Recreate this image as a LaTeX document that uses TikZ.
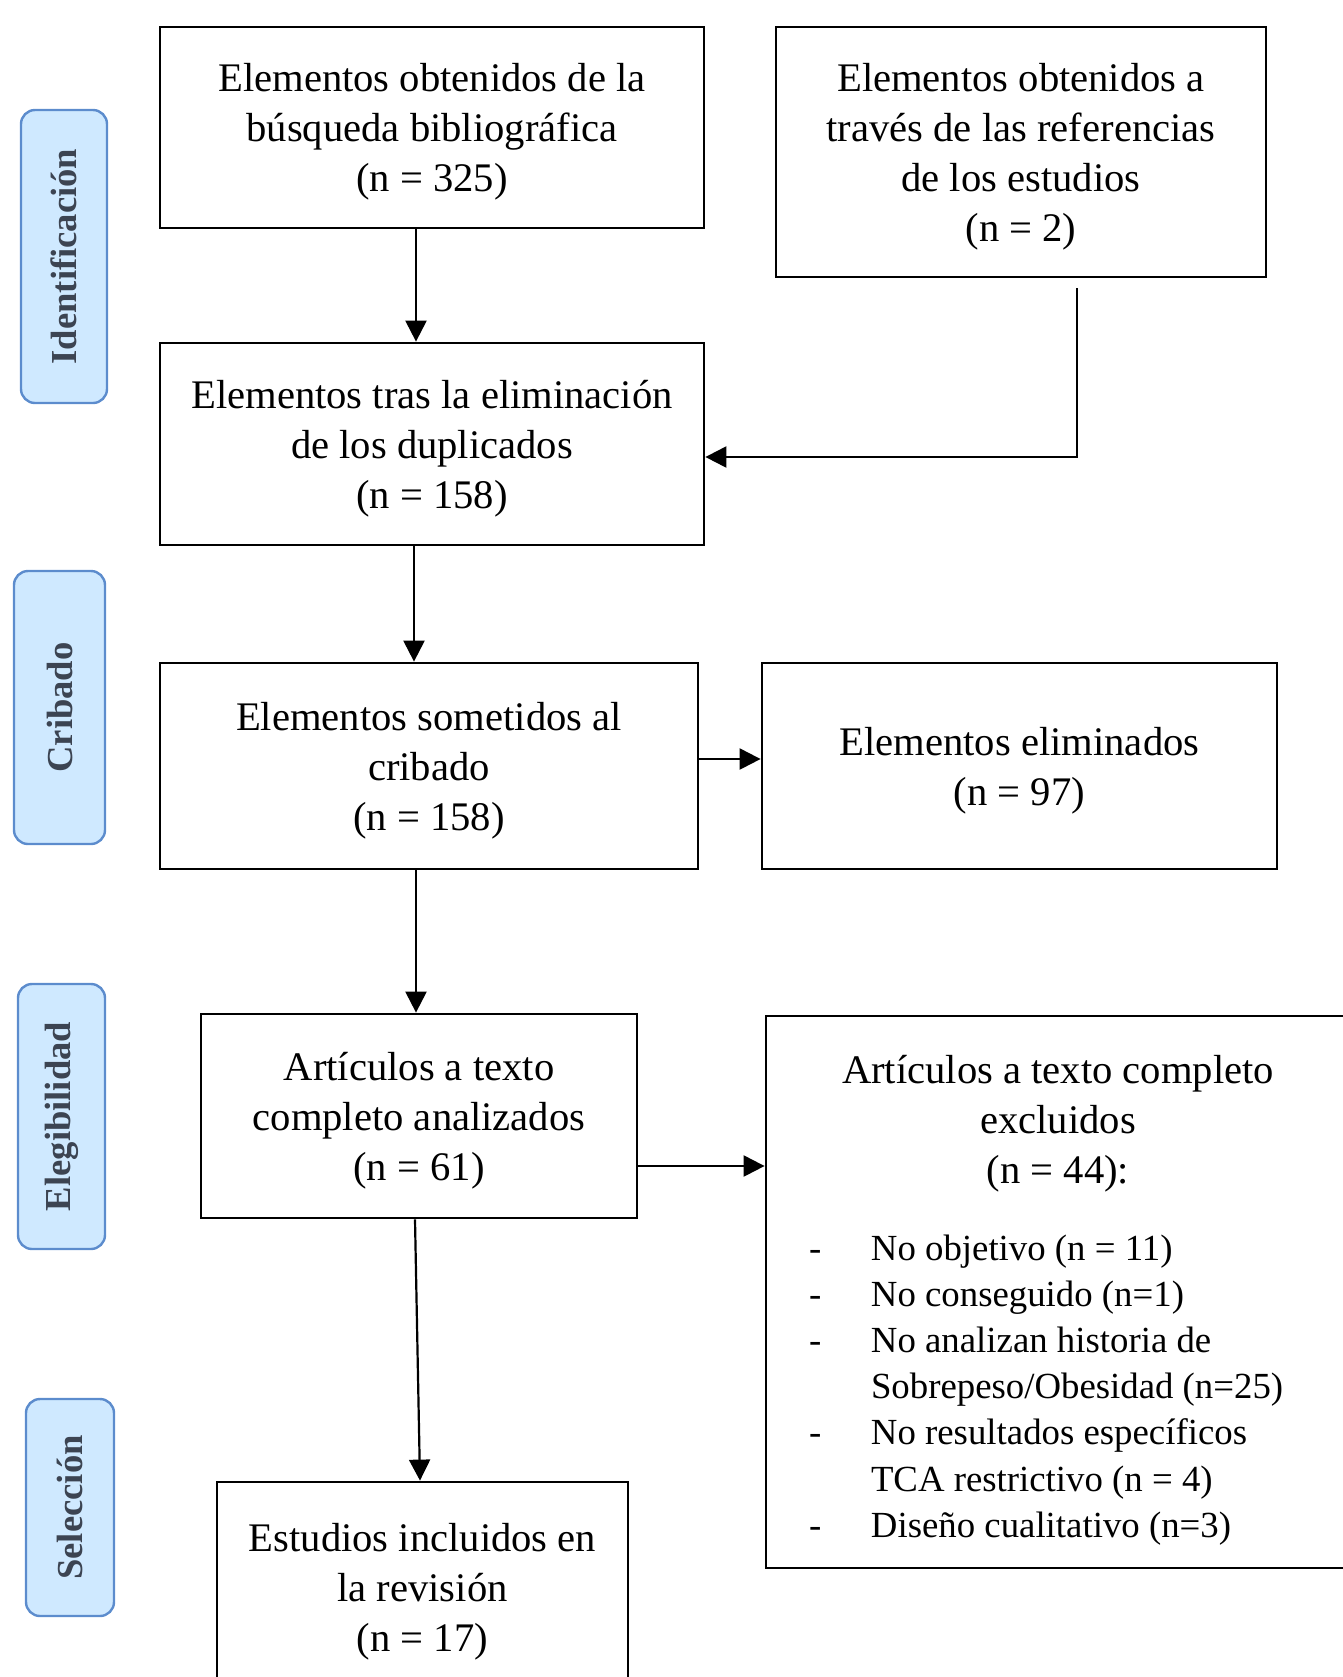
\documentclass[tikz,border=0pt]{standalone}
\usepackage{fontspec}
\setmainfont{Liberation Serif}
\usetikzlibrary{arrows.meta}

\definecolor{phasefill}{RGB}{207,233,255}
\definecolor{phasedraw}{RGB}{92,140,205}
\definecolor{phasetext}{RGB}{60,68,82}

\tikzset{every picture/.style={line width=0.75pt}}
\tikzset{
  box/.style={draw, line width=1.4pt, align=center, inner sep=0pt, font=\fontsize{20.3}{25}\selectfont},
  flow/.style={box, text depth=-0.6pt},
  phase/.style={draw=phasedraw, fill=phasefill, line width=1.2pt, rounded corners=7pt, rotate=90,
    inner sep=0pt, text=phasetext, font=\fontsize{18.3}{20}\selectfont\bfseries},
  arr/.style={line width=1.1pt, -{Triangle[length=10.5pt,width=10.5pt]}}
}

\newcommand{\dashitem}[1]{\noindent\hspace*{21.5pt}\makebox[31pt][l]{-}#1\par}
\newcommand{\contitem}[1]{\noindent\hspace*{52.5pt}#1\par}

\begin{document}
\begin{tikzpicture}[x=0.5pt,y=0.5pt,yscale=-1,xscale=1]
\useasboundingbox (0,0) rectangle (1343,1677);

%Shape: Rounded Rectangle [phases]
\node[phase, minimum width=146.5pt, minimum height=43pt] (ident) at (64,256.5) {Identificación};
\node[phase, minimum width=136.5pt, minimum height=45.5pt] (crib) at (59.5,707.5) {Cribado};
\node[phase, minimum width=132.5pt, minimum height=43.5pt] (eleg) at (61.5,1116.5) {Elegibilidad};
\node[phase, minimum width=108.5pt, minimum height=44pt] (selec) at (70,1507.5) {Selección};

%Shape: Rectangle [boxes]
\node[flow, minimum width=272pt, minimum height=100.5pt] (busq) at (432,127.5) {Elementos obtenidos de la\\búsqueda bibliográfica\\(n = 325)};
\node[flow, minimum width=245pt, minimum height=125pt] (refs) at (1021,152) {Elementos obtenidos a\\través de las referencias\\de los estudios\\(n = 2)};
\node[flow, minimum width=272pt, minimum height=101pt] (dupl) at (432,444) {Elementos tras la eliminación\\de los duplicados\\(n = 158)};
\node[flow, minimum width=269pt, minimum height=103pt] (cribado) at (429,766) {Elementos sometidos al\\cribado\\(n = 158)};
\node[flow, minimum width=257.5pt, minimum height=103pt] (elim) at (1019.5,766) {Elementos eliminados\\(n = 97)};
\node[flow, minimum width=218pt, minimum height=102pt] (analiz) at (419,1116) {Artículos a texto\\completo analizados\\(n = 61)};
\node[box, minimum width=292pt, minimum height=276pt] (excl) at (1058,1292) {%
  \begin{minipage}{292pt}
  \vspace*{8pt}
  \centering\fontsize{20.3}{25}\selectfont
  Artículos a texto completo\\excluidos\\(n = 44):\par
  \vspace{15.4pt}
  \raggedright\fontsize{18.4}{23.1}\selectfont
  \dashitem{No objetivo (n = 11)}
  \dashitem{No conseguido (n=1)}
  \dashitem{No analizan historia de}
  \contitem{Sobrepeso/Obesidad (n=25)}
  \dashitem{No resultados específicos}
  \contitem{TCA restrictivo (n = 4)}
  \dashitem{Diseño cualitativo (n=3)}
  \end{minipage}};
\node[flow, minimum width=205.5pt, minimum height=105pt] (incl) at (422.5,1587) {Estudios incluidos en\\la revisión\\(n = 17)};

%Straight Lines [arrows]
\draw[arr] ([xshift=-8pt]busq.south) -- ([xshift=-8pt]dupl.north);
\draw[arr] ([xshift=28pt,yshift=5pt]refs.south) |- ([yshift=6.5pt]dupl.east);
\draw[arr] ([xshift=-9pt]dupl.south) -- ([xshift=-9pt]dupl.south |- cribado.north);
\draw[arr] ([yshift=-3.5pt]cribado.east) -- ([yshift=-3.5pt]cribado.east -| elim.west);
\draw[arr] ([xshift=-6.5pt]cribado.south) -- ([xshift=-6.5pt]cribado.south |- analiz.north);
\draw[arr] ([yshift=25pt]analiz.east) -- ([yshift=25pt]analiz.east -| excl.west);
\draw[arr] ([xshift=-2pt]analiz.south) -- ([xshift=-1.25pt]incl.north);

\end{tikzpicture}
\end{document}
